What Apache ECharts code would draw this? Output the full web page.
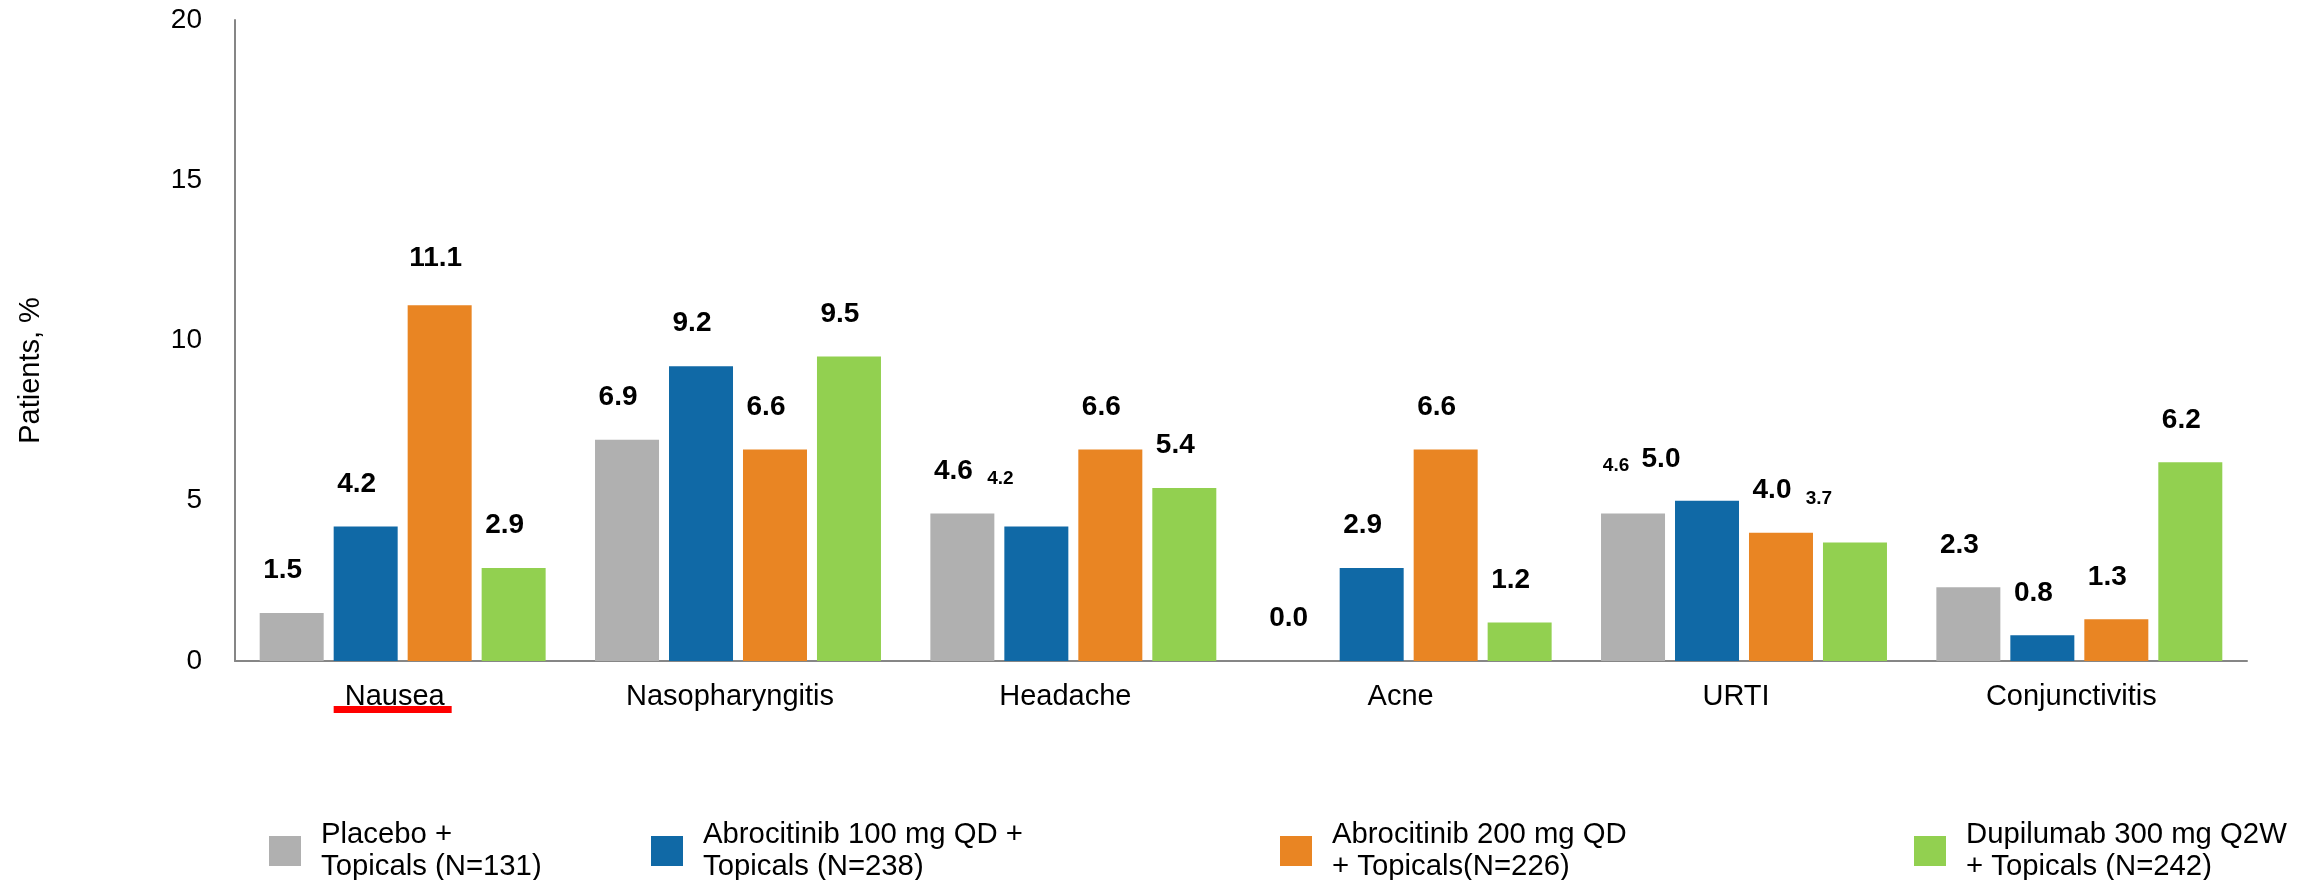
<!DOCTYPE html>
<html>
<head>
<meta charset="utf-8">
<title>Adverse events by treatment arm</title>
<script src="https://cdn.jsdelivr.net/npm/echarts@6/dist/echarts.min.js"></script>
<style>
  html, body { margin: 0; padding: 0; background: #ffffff; }
  #chart { width: 2318px; height: 880px; }
</style>
</head>
<body>
<div id="chart"></div>
<script>
// Adverse events (% of patients) per treatment arm
const categories = ['Nausea', 'Nasopharyngitis', 'Headache', 'Acne', 'URTI', 'Conjunctivitis'];

const placebo   = [1.5, 6.9, 4.6, 0.0, 4.6, 2.3];
const abro100   = [4.2, 9.2, 4.2, 2.9, 5.0, 0.8];
const abro200   = [11.1, 6.6, 6.6, 6.6, 4.0, 1.3];
const dupilumab = [2.9, 9.5, 5.4, 1.2, 3.7, 6.2];

const seriesNames = [
  'Placebo +\nTopicals (N=131)',
  'Abrocitinib 100 mg QD +\nTopicals (N=238)',
  'Abrocitinib 200 mg QD\n+ Topicals(N=226)',
  'Dupilumab 300 mg Q2W\n+ Topicals (N=242)'
];
const seriesValues = [placebo, abro100, abro200, dupilumab];
const seriesColors = ['#B0B0B0', '#1069A6', '#E98523', '#92D050'];

const yMin = 0, yMax = 20, yStep = 5;

// Legend entries are spread unevenly along the bottom
const legendLeft = [269, 651, 1280, 1914];

// Individual value labels nudged away from crowded neighbours
const labelTweaks = [
  { s: 2, c: 0, offset: [-4, -4] },
  { s: 1, c: 2, fontSize: 19, offset: [-36, -10] },
  { s: 0, c: 4, fontSize: 19, offset: [-17, -10] },
  { s: 1, c: 4, offset: [-46, 1] },
  { s: 3, c: 4, fontSize: 19, offset: [-36, -6] }
];

const FONT = '"Liberation Sans", Arial, Helvetica, sans-serif';

function buildData(si) {
  return seriesValues[si].map(function (v, ci) {
    const t = labelTweaks.find(function (x) { return x.s === si && x.c === ci; });
    if (!t) return v;
    const label = { offset: t.offset };
    if (t.fontSize) label.fontSize = t.fontSize;
    return { value: v, label: label };
  });
}

const chart = echarts.init(document.getElementById('chart'), null, { renderer: 'canvas' });

const series = seriesNames.map(function (name, si) {
  return {
    name: name,
    type: 'bar',
    data: buildData(si),
    barWidth: 64,
    barGap: '15.6%',
    itemStyle: { color: seriesColors[si] },
    label: {
      show: true,
      position: 'top',
      distance: 28.5,
      offset: [-9, 0],
      fontFamily: FONT,
      fontSize: 28,
      fontWeight: 'bold',
      color: '#000000',
      formatter: function (p) { return Number(p.value).toFixed(1); }
    },
    emphasis: { disabled: true },
    animation: false
  };
});

const legends = seriesNames.map(function (name, si) {
  return {
    data: [name],
    left: legendLeft[si],
    top: 809,
    padding: 0,
    icon: 'rect',
    itemWidth: 32,
    itemHeight: 30,
    selectedMode: false,
    textStyle: {
      fontFamily: FONT,
      fontSize: 29.3,
      lineHeight: 32,
      color: '#000000',
      padding: [0, 0, 20, 15]
    }
  };
});

chart.setOption({
  animation: false,
  backgroundColor: '#ffffff',
  textStyle: { fontFamily: FONT },
  grid: { left: 235, right: 71, top: 20, bottom: 219, containLabel: false },
  legend: legends,
  xAxis: {
    type: 'category',
    data: categories,
    axisLine: { show: true, lineStyle: { color: '#868686', width: 2 } },
    axisTick: { show: false },
    axisLabel: {
      fontFamily: FONT, fontSize: 29, color: '#000000', margin: 21,
      padding: [0, 16, 0, 0]
    },
    splitLine: { show: false }
  },
  yAxis: {
    type: 'value',
    min: yMin,
    max: yMax,
    interval: yStep,
    name: 'Patients, %',
    nameLocation: 'middle',
    nameGap: 190,
    nameRotate: 90,
    nameTextStyle: { fontFamily: FONT, fontSize: 29, color: '#000000', padding: [0, 60, 0, 0] },
    axisLine: { show: true, lineStyle: { color: '#868686', width: 2 } },
    axisTick: { show: false },
    axisLabel: { fontFamily: FONT, fontSize: 28, color: '#000000', margin: 33 },
    splitLine: { show: false }
  },
  series: series
});

// Red underline beneath the first category label
const cx = chart.convertToPixel({ xAxisIndex: 0 }, categories[0]);
const axisY = chart.convertToPixel({ yAxisIndex: 0 }, 0);
chart.setOption({
  graphic: [{
    type: 'rect',
    shape: { x: cx - 69, y: axisY + 45, width: 118, height: 7 },
    style: { fill: '#FF0000' },
    silent: true
  }]
});
</script>
</body>
</html>
